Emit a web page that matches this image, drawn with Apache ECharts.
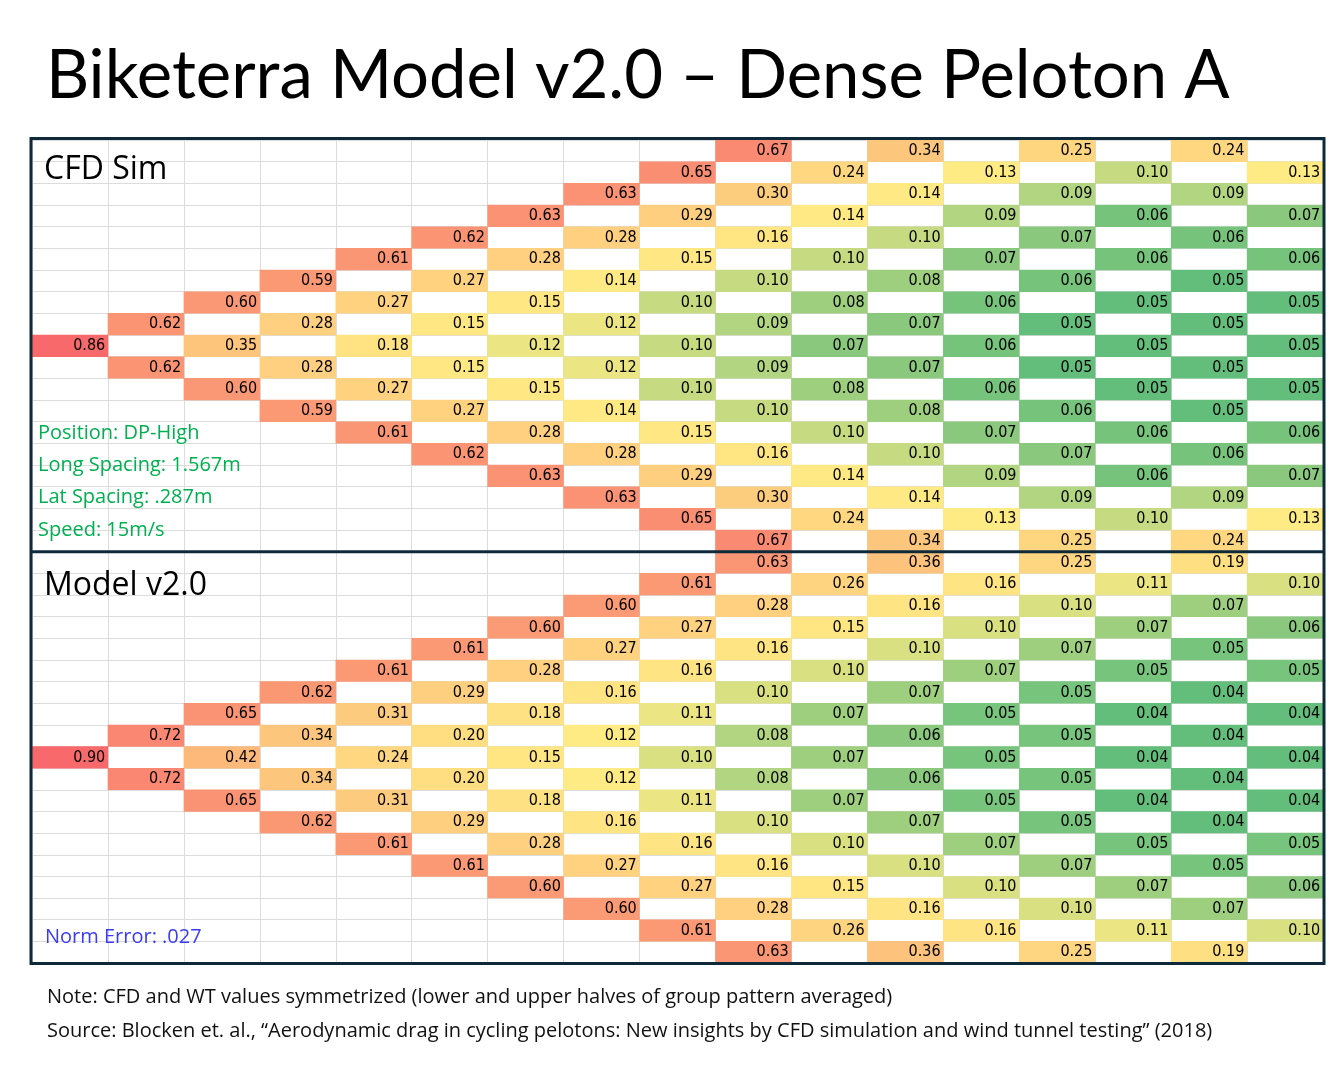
<!DOCTYPE html>
<html>
<head>
<meta charset="utf-8">
<title>Biketerra Model v2.0 – Dense Peloton A</title>
<script src="https://cdn.jsdelivr.net/npm/echarts@6/dist/echarts.min.js"></script>
<style>
  html, body { margin: 0; padding: 0; background: #fff; }
  #chart { width: 1340px; height: 1077px; }
</style>
</head>
<body>
<div id="chart"></div>
<script>
// grid columns / rows (hidden axis categories)
const columns = ['C1', 'C2', 'C3', 'C4', 'C5', 'C6', 'C7', 'C8', 'C9', 'C10', 'C11', 'C12', 'C13', 'C14', 'C15', 'C16', 'C17'];
const rows = ['R1', 'R2', 'R3', 'R4', 'R5', 'R6', 'R7', 'R8', 'R9', 'R10', 'R11', 'R12', 'R13', 'R14', 'R15', 'R16', 'R17', 'R18', 'R19'];

// each row lists its values left to right; the row's first filled column is
// its distance from the middle row, then every second column (staggered peloton)
const cfdRows = [
  [0.67, 0.34, 0.25, 0.24],
  [0.65, 0.24, 0.13, 0.10, 0.13],
  [0.63, 0.30, 0.14, 0.09, 0.09],
  [0.63, 0.29, 0.14, 0.09, 0.06, 0.07],
  [0.62, 0.28, 0.16, 0.10, 0.07, 0.06],
  [0.61, 0.28, 0.15, 0.10, 0.07, 0.06, 0.06],
  [0.59, 0.27, 0.14, 0.10, 0.08, 0.06, 0.05],
  [0.60, 0.27, 0.15, 0.10, 0.08, 0.06, 0.05, 0.05],
  [0.62, 0.28, 0.15, 0.12, 0.09, 0.07, 0.05, 0.05],
  [0.86, 0.35, 0.18, 0.12, 0.10, 0.07, 0.06, 0.05, 0.05],
  [0.62, 0.28, 0.15, 0.12, 0.09, 0.07, 0.05, 0.05],
  [0.60, 0.27, 0.15, 0.10, 0.08, 0.06, 0.05, 0.05],
  [0.59, 0.27, 0.14, 0.10, 0.08, 0.06, 0.05],
  [0.61, 0.28, 0.15, 0.10, 0.07, 0.06, 0.06],
  [0.62, 0.28, 0.16, 0.10, 0.07, 0.06],
  [0.63, 0.29, 0.14, 0.09, 0.06, 0.07],
  [0.63, 0.30, 0.14, 0.09, 0.09],
  [0.65, 0.24, 0.13, 0.10, 0.13],
  [0.67, 0.34, 0.25, 0.24],
];

const modelRows = [
  [0.63, 0.36, 0.25, 0.19],
  [0.61, 0.26, 0.16, 0.11, 0.10],
  [0.60, 0.28, 0.16, 0.10, 0.07],
  [0.60, 0.27, 0.15, 0.10, 0.07, 0.06],
  [0.61, 0.27, 0.16, 0.10, 0.07, 0.05],
  [0.61, 0.28, 0.16, 0.10, 0.07, 0.05, 0.05],
  [0.62, 0.29, 0.16, 0.10, 0.07, 0.05, 0.04],
  [0.65, 0.31, 0.18, 0.11, 0.07, 0.05, 0.04, 0.04],
  [0.72, 0.34, 0.20, 0.12, 0.08, 0.06, 0.05, 0.04],
  [0.90, 0.42, 0.24, 0.15, 0.10, 0.07, 0.05, 0.04, 0.04],
  [0.72, 0.34, 0.20, 0.12, 0.08, 0.06, 0.05, 0.04],
  [0.65, 0.31, 0.18, 0.11, 0.07, 0.05, 0.04, 0.04],
  [0.62, 0.29, 0.16, 0.10, 0.07, 0.05, 0.04],
  [0.61, 0.28, 0.16, 0.10, 0.07, 0.05, 0.05],
  [0.61, 0.27, 0.16, 0.10, 0.07, 0.05],
  [0.60, 0.27, 0.15, 0.10, 0.07, 0.06],
  [0.60, 0.28, 0.16, 0.10, 0.07],
  [0.61, 0.26, 0.16, 0.11, 0.10],
  [0.63, 0.36, 0.25, 0.19],
];

const titleText = 'Biketerra Model v2.0 – Dense Peloton A';
const cfdLabel = 'CFD Sim';
const modelLabel = 'Model v2.0';
const conditions = ['Position: DP-High', 'Long Spacing: 1.567m', 'Lat Spacing: .287m', 'Speed: 15m/s'];
const errorText = 'Norm Error: .027';
const noteText = 'Note: CFD and WT values symmetrized (lower and upper halves of group pattern averaged)';
const sourceText = 'Source: Blocken et. al., \u201cAerodynamic drag in cycling pelotons: New insights by CFD simulation and wind tunnel testing\u201d (2018)';

// Excel style 3-colour scale: min green, 50th percentile yellow, max red
const LOW = [99, 190, 123];
const MID = [255, 235, 132];
const HIGH = [248, 105, 107];

const GRID_LEFT = 32;
const GRID_WIDTH = 1291;
const TOP1 = 140;
const TOP2 = 551.7;
const PANEL_H = 411.3;
const BORDER = '#0e2a3a';
const TITLE_FONT = 'Lato, "Open Sans", sans-serif';
const UI_FONT = '"Open Sans", Lato, sans-serif';
const CELL_FONT = '"Liberation Sans Narrow", "DejaVu Sans Condensed", sans-serif';

function toCells(panelRows) {
  const mid = Math.floor(panelRows.length / 2);
  const cells = [];
  panelRows.forEach((list, r) => {
    const start = Math.abs(r - mid);
    list.forEach((v, i) => cells.push([start + 2 * i, r, v]));
  });
  return cells;
}

function percentile(values, p) {
  const s = values.slice().sort((a, b) => a - b);
  const k = (s.length - 1) * p;
  const lo = Math.floor(k);
  const hi = Math.ceil(k);
  return s[lo] + (s[hi] - s[lo]) * (k - lo);
}

function mix(a, b, t) {
  return 'rgb(' + a.map((c, i) => Math.round(c + (b[i] - c) * t)).join(',') + ')';
}

function colorScale(cells) {
  const vals = cells.map((c) => c[2]);
  const min = Math.min(...vals);
  const max = Math.max(...vals);
  const med = percentile(vals, 0.5);
  return (v) => (v <= med
    ? mix(LOW, MID, med === min ? 1 : (v - min) / (med - min))
    : mix(MID, HIGH, (v - med) / (max - med)));
}

function buildSeries(panelRows, index) {
  const cells = toCells(panelRows);
  const colorOf = colorScale(cells);
  return {
    type: 'heatmap',
    xAxisIndex: index,
    yAxisIndex: index,
    data: cells.map((c) => ({ value: c, itemStyle: { color: colorOf(c[2]) } })),
    label: {
      show: true,
      position: 'insideRight',
      distance: 3,
      color: '#000',
      fontSize: 16,
      fontFamily: CELL_FONT,
      formatter: (p) => p.value[2].toFixed(2),
    },
    emphasis: { disabled: true },
    z: 2,
  };
}

function axisPair(index) {
  return {
    x: {
      type: 'category',
      gridIndex: index,
      data: columns,
      axisLine: { show: false },
      axisTick: { show: false },
      axisLabel: { show: false },
      splitLine: { show: true, interval: 0, lineStyle: { color: '#dcdcdc', width: 1 } },
    },
    y: {
      type: 'category',
      gridIndex: index,
      data: rows,
      inverse: true,
      axisLine: { show: false },
      axisTick: { show: false },
      axisLabel: { show: false },
      splitLine: { show: true, interval: 0, lineStyle: { color: '#dcdcdc', width: 1 } },
    },
  };
}

function text(str, x, y, size, fill, family) {
  return {
    type: 'text',
    x,
    y,
    z: 100,
    silent: true,
    style: {
      text: str,
      fill,
      font: size + 'px ' + (family || UI_FONT),
      textVerticalAlign: 'middle',
    },
  };
}

const chart = echarts.init(document.getElementById('chart'), null, { renderer: 'canvas' });
const a0 = axisPair(0);
const a1 = axisPair(1);

const graphics = [
  text(titleText, 46, 76, 67, '#000', TITLE_FONT),
  text(cfdLabel, 44, 170, 32, '#000'),
  text(modelLabel, 44, 586, 32, '#000'),
  text(errorText, 45, 937, 20, '#3b3bf5'),
  text(noteText, 47, 997, 20, '#111'),
  text(sourceText, 47, 1031, 20, '#111'),
  {
    type: 'rect',
    z: 101,
    silent: true,
    shape: { x: GRID_LEFT - 1, y: TOP1 - 1.5, width: GRID_WIDTH + 2, height: TOP2 + PANEL_H - TOP1 + 2 },
    style: { fill: 'none', stroke: BORDER, lineWidth: 3 },
  },
  {
    type: 'line',
    z: 101,
    silent: true,
    shape: { x1: GRID_LEFT - 1, y1: TOP2, x2: GRID_LEFT + GRID_WIDTH + 1, y2: TOP2 },
    style: { stroke: BORDER, lineWidth: 3 },
  },
];
const condY = [433, 465.5, 497.5, 530];
conditions.forEach((c, i) => graphics.push(text(c, 38, condY[i], 20, '#00b050')));

chart.setOption({
  backgroundColor: '#fff',
  animation: false,
  grid: [
    { left: GRID_LEFT, top: TOP1, width: GRID_WIDTH, height: TOP2 - TOP1 },
    { left: GRID_LEFT, top: TOP2, width: GRID_WIDTH, height: PANEL_H },
  ],
  xAxis: [a0.x, a1.x],
  yAxis: [a0.y, a1.y],
  series: [buildSeries(cfdRows, 0), buildSeries(modelRows, 1)],
  graphic: graphics,
});

window.addEventListener('resize', () => chart.resize());
</script>
</body>
</html>
